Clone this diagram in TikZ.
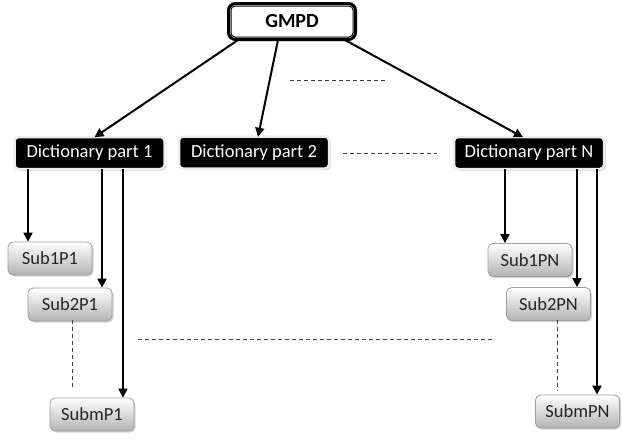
\documentclass[tikz,border=0pt]{standalone}
\usepackage{fontspec}
\setmainfont{Carlito}
\usetikzlibrary{arrows.meta,shadows,calc}
\begin{document}
\begin{tikzpicture}[x=1pt,y=-1pt,
  dictbox/.style={fill=black,text=white,draw=gray!15,line width=2.5pt,rounded corners=4pt,
    minimum width=150pt,minimum height=32pt,inner sep=0pt,font=\fontsize{18.5}{20}\selectfont,
    drop shadow={shadow xshift=1.5pt,shadow yshift=-1.5pt,opacity=0.4}},
  subbox/.style={top color=white,bottom color=gray!60,draw=gray!75,line width=0.8pt,rounded corners=5pt,
    minimum width=84pt,minimum height=33pt,inner sep=0pt,text=black!85,font=\fontsize{18.5}{20}\selectfont,
    drop shadow={shadow xshift=1.5pt,shadow yshift=-1.5pt,opacity=0.35}},
  arr/.style={line width=2pt,-{Triangle[length=9pt,width=9pt]}},
  dsh/.style={line width=0.8pt,black!75,dash pattern=on 4pt off 3pt}
]
\useasboundingbox (0,0) rectangle (622,439);
% top node
\node[draw,line width=3pt,rounded corners=7pt,minimum width=127pt,minimum height=36pt,inner sep=0pt,
  font=\bfseries\fontsize{20}{22}\selectfont] (g) at (292,21.5) {GMPD};
\draw[line width=1pt,rounded corners=4pt] ([shift={(4pt,-4pt)}]g.north west) rectangle ([shift={(-4pt,4pt)}]g.south east);
% dictionary parts
\node[dictbox] (d1) at (89.5,153) {Dictionary part 1};
\node[dictbox] (d2) at (254,152.5) {Dictionary part 2};
\node[dictbox] (dN) at (529,153) {Dictionary part N};
% sub boxes
\node[subbox] (s11) at (50,258.5) {Sub1P1};
\node[subbox] (s21) at (70,304.5) {Sub2P1};
\node[subbox] (sm1) at (92,414.5) {SubmP1};
\node[subbox] (s1N) at (530,260) {Sub1PN};
\node[subbox] (s2N) at (548.5,304) {Sub2PN};
\node[subbox] (smN) at (577.5,411.5) {SubmPN};
% arrows from GMPD
\draw[arr] ([xshift=-54pt,yshift=1pt]g.south) -- ([xshift=5pt,yshift=-1.5pt]d1.north);
\draw[arr] ([xshift=-14pt,yshift=1pt]g.south) -- ([xshift=4pt,yshift=-1.5pt]d2.north);
\draw[arr] ([xshift=53pt,yshift=1pt]g.south) -- ([xshift=-6pt,yshift=-1.5pt]dN.north);
% arrows from part 1
\draw[arr] ([xshift=-61.5pt,yshift=1pt]d1.south) -- ([xshift=-61.5pt]d1.south |- s11.north);
\draw[arr] ([xshift=12.5pt,yshift=1pt]d1.south) -- ([xshift=12.5pt]d1.south |- s21.north);
\draw[arr] ([xshift=33.5pt,yshift=1pt]d1.south) -- ([xshift=33.5pt]d1.south |- sm1.north);
% arrows from part N
\draw[arr] ([xshift=-24pt,yshift=1pt]dN.south) -- ([xshift=-24pt]dN.south |- s1N.north);
\draw[arr] ([xshift=48pt,yshift=1pt]dN.south) -- ([xshift=48pt]dN.south |- s2N.north);
\draw[arr] ([xshift=68pt,yshift=1pt]dN.south) -- ([xshift=68pt]dN.south |- smN.north);
% dashed lines
\coordinate (a1) at (290,80); \coordinate (a2) at (385,80);
\draw[dsh] (a1) -- (a2);
\coordinate (b1) at (343,153); \coordinate (b2) at (437,153);
\draw[dsh] (b1) -- (b2);
\coordinate (c1) at (138,339); \coordinate (c2) at (495,339);
\draw[dsh] (c1) -- (c2);
\coordinate (e1) at (72,390);
\draw[dsh] ([xshift=2pt,yshift=1pt]s21.south) -- (e1);
\coordinate (e2) at (557,390);
\draw[dsh] ([xshift=8.5pt,yshift=1pt]s2N.south) -- (e2);
\end{tikzpicture}
\end{document}
